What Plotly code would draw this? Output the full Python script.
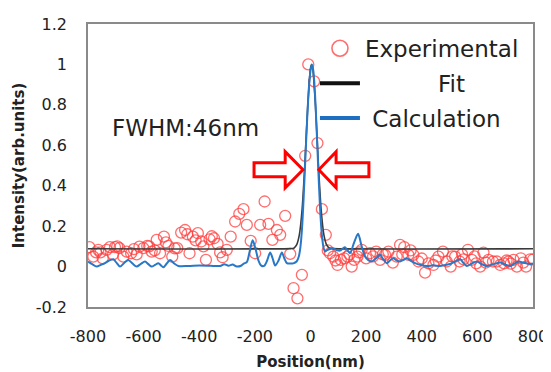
import plotly.graph_objects as go

# ---------------- data ----------------
exp_x = [-795, -781, -771, -763, -755, -747, -733, -721, -710, -703, -695, -687, -673, -661,
         -645, -635, -625, -615, -601, -587, -580, -571, -560, -553, -541, -527, -520, -511,
         -497, -488, -479, -465, -451, -443, -435, -423, -413, -405, -393, -385, -376, -363,
         -355, -347, -334, -325, -316, -301, -287, -271, -256, -241, -229, -215, -199, -181,
         -165, -151, -137, -121, -109, -91, -73, -61, -47, -31, -19, -8, 13, 25, 41, 55, 62,
         70, 82, 90, 97, 109, 121, 133, 140, 148, 157, 169, 175, 184, 200, 214, 225, 236, 250,
         260, 268, 280, 296, 310, 322, 330, 337, 352, 360, 370, 388, 400, 412, 424, 442, 450,
         460, 476, 490, 504, 510, 520, 536, 545, 550, 566, 580, 590, 596, 610, 622, 630, 640,
         656, 670, 682, 696, 705, 712, 720, 730, 742, 756, 765, 775, 790, 800]
exp_y = [0.096, 0.049, 0.07, 0.083, 0.07, 0.041, 0.083, 0.096, 0.06, 0.096, 0.1, 0.091, 0.049, 0.074,
         0.066, 0.086, 0.06, 0.099, 0.091, 0.102, 0.1, 0.074, 0.08, 0.132, 0.066, 0.148, 0.12, 0.102,
         0.049, 0.09, 0.091, 0.168, 0.181, 0.16, 0.066, 0.148, 0.13, 0.165, 0.124, 0.1, 0.033, 0.135,
         0.15, 0.14, 0.112, 0.07, 0.046, 0.083, 0.148, 0.223, 0.261, 0.284, 0.206, 0.127, 0.066, 0.206,
         0.322, 0.211, 0.132, 0.181, 0.157, 0.251, 0.063, -0.107, -0.157, -0.041, 0.548, 1.0, 0.916,
         0.611, 0.284, 0.157, 0.08,
         0.066, 0.049, 0.03, 0.008, 0.033, 0.041, 0.049, 0.06, 0.0, 0.033, 0.049, 0.07, 0.083, 0.041,
         0.066, 0.05, 0.074, 0.033, 0.06, 0.058, 0.074, 0.02, 0.049, 0.107, 0.06, 0.096, 0.058, 0.08,
         0.058, 0.025, 0.04, -0.03, 0.016, 0.008, 0.03, 0.049, 0.074, 0.025, 0.0, 0.05, 0.049, 0.025,
         0.06, 0.036, 0.083, 0.033, 0.05, 0.016, 0.0, 0.069, 0.02, 0.033, 0.025, 0.025, 0.008, 0.016,
         0.03, 0.025, 0.015, 0.033, 0.0, 0.041, 0.02, 0.0, 0.036, 0.035]

fit_x = [-800, -70, -60, -50, -40, -30, -20, -10, 0, 4, 8, 18, 28, 38, 48, 58, 68, 78, 800]
fit_y = [0.088, 0.089, 0.091, 0.107, 0.158, 0.286, 0.515, 0.792, 0.981, 1.0, 0.981, 0.792,
         0.515, 0.286, 0.158, 0.107, 0.091, 0.089, 0.088]

calc_x = [-800, -785, -769, -754, -739, -724, -709, -697, -685, -670, -655, -640, -625, -610,
          -595, -583, -571, -559, -547, -538, -529, -517, -505, -490, -475, -440, -400, -360,
          -325, -310, -295, -280, -265, -250, -240, -229, -218, -208, -198, -187, -177, -167,
          -156, -145, -136, -127, -115, -103, -94, -85, -73, -62, -50, -42, -36, -30, -24, -18,
          -12, -6, 0, 5, 10, 16, 22, 28, 34, 40, 46, 52, 58, 70, 82, 94, 106, 115, 124, 133,
          142, 157, 171, 184, 196, 208, 220, 235, 250, 262, 274, 286, 298, 310, 322, 334, 346,
          361, 376, 397, 418, 442, 466, 484, 502, 520, 538, 550, 562, 580, 598, 616, 634, 658,
          682, 700, 718, 733, 748, 769, 790, 800]
calc_y = [0.025, 0.012, 0.0, 0.008, 0.017, 0.03, 0.036, 0.018, 0.0, 0.018, 0.033, 0.015, 0.0, 0.013,
          0.025, 0.012, 0.0, 0.008, 0.017, 0.006, -0.003, 0.015, 0.033, 0.015, 0.003, 0.003, 0.005, 0.004,
          0.003, 0.012, 0.004, 0.01, 0.0, 0.004, 0.015, 0.022, 0.08, 0.13, 0.09, 0.03, 0.005, 0.003,
          0.03, 0.07, 0.04, 0.005, 0.03, 0.07, 0.04, 0.017, 0.015, 0.016, 0.025, 0.05, 0.1, 0.2, 0.36, 0.55,
          0.73, 0.88, 0.97, 1.0, 0.97, 0.86, 0.68, 0.48, 0.3, 0.17, 0.1, 0.075, 0.08, 0.087, 0.09, 0.082,
          0.079, 0.088, 0.096, 0.08, 0.066, 0.12, 0.162, 0.1, 0.05, 0.032, 0.025, 0.04, 0.058, 0.035,
          0.017, 0.03, 0.041, 0.03, 0.025, 0.033, 0.041, 0.028, 0.017, 0.008, 0.003, 0.006, 0.003, 0.008,
          0.013, 0.025, 0.036, 0.018, 0.003, 0.015, 0.025, 0.012, 0.003, 0.012, 0.02, 0.01, 0.003, 0.014,
          0.025, 0.018, 0.013, 0.015]

x_ticks = [-800, -600, -400, -200, 0, 200, 400, 600, 800]
x_tick_text = ["-800", "-600", "-400", "-200", "0", "200", "400", "600", "800"]
y_ticks = [-0.2, 0, 0.2, 0.4, 0.6, 0.8, 1, 1.2]
y_tick_text = ["-0.2", "0", "0.2", "0.4", "0.6", "0.8", "1", "1.2"]

# ---------------- figure ----------------
RED = "rgba(255,60,60,0.75)"
FONT = "DejaVu Sans"

fig = go.Figure()
fig.add_trace(go.Scatter(
    x=exp_x, y=exp_y, mode="markers", name="Experimental", showlegend=False,
    marker=dict(symbol="circle-open", size=11, color=RED, line=dict(width=1.3, color=RED)),
))
fig.add_trace(go.Scatter(
    x=fit_x, y=fit_y, mode="lines", name="Fit", showlegend=False,
    line=dict(color="#3a3a3a", width=1.6, shape="spline", smoothing=0.6),
))
fig.add_trace(go.Scatter(
    x=calc_x, y=calc_y, mode="lines", name="Calculation", showlegend=False,
    line=dict(color="#2878c8", width=2, shape="spline", smoothing=0.8),
))

# legend entries
fig.add_trace(go.Scatter(
    x=[None], y=[None], mode="markers", name="Experimental", legendgroup="a",
    marker=dict(symbol="circle-open", size=16, color=RED, line=dict(width=1.6, color=RED)),
))
fig.add_trace(go.Scatter(
    x=[None], y=[None], mode="lines", name="&nbsp;" * 10 + "Fit", legendgroup="b",
    line=dict(color="#111111", width=4),
))
fig.add_trace(go.Scatter(
    x=[None], y=[None], mode="lines", name="&nbsp;Calculation", legendgroup="c",
    line=dict(color="#1f6fc0", width=4),
))

arrow_left = "M -203,0.444 L -91,0.444 L -91,0.39 L -27,0.479 L -91,0.568 L -91,0.513 L -203,0.513 Z"
arrow_right = "M 210,0.444 L 92,0.444 L 92,0.39 L 30,0.479 L 92,0.568 L 92,0.513 L 210,0.513 Z"
for p in (arrow_left, arrow_right):
    fig.add_shape(type="path", path=p, xref="x", yref="y",
                  line=dict(color="#ff0000", width=3), fillcolor="white", layer="above")

fig.add_annotation(x=-722, y=0.685, xref="x", yref="y", text="FWHM:46nm", showarrow=False,
                   xanchor="left", yanchor="middle", font=dict(family=FONT, size=23, color="#222"))

# page body has an 8px margin, so the figure is sized/offset to match the 551x372 reference
fig.update_layout(
    width=543, height=364,
    margin=dict(l=80, r=18, t=16, b=65),
    paper_bgcolor="white", plot_bgcolor="white",
    font=dict(family=FONT, color="#222"),
    legend=dict(x=0.51, y=0.99, xanchor="left", yanchor="top",
                font=dict(family=FONT, size=23, color="#222"),
                bgcolor="rgba(0,0,0,0)", tracegroupgap=2, itemwidth=40),
    xaxis=dict(range=[-800, 800], tickvals=x_ticks, ticktext=x_tick_text, showgrid=False,
               zeroline=False, showline=True, linecolor="#8a8a8a", linewidth=1.5, mirror=True,
               automargin=False,
               ticks="outside", ticklen=14, tickcolor="rgba(0,0,0,0)",
               tickfont=dict(family=FONT, size=16, color="#222"),
               title=dict(text="<b>Position(nm)</b>", font=dict(family=FONT, size=15, color="#222"),
                          standoff=12)),
    yaxis=dict(range=[-0.2, 1.2], tickvals=y_ticks, ticktext=y_tick_text, showgrid=False,
               zeroline=False, showline=True, linecolor="#8a8a8a", linewidth=1.5, mirror=True,
               automargin=False,
               ticks="outside", ticklen=16, tickcolor="rgba(0,0,0,0)",
               tickfont=dict(family=FONT, size=16, color="#222"),
               title=dict(text="<b>Intensity(arb.units)</b>", font=dict(family=FONT, size=15, color="#222"),
                          standoff=8)),
)

fig.write_html("out.html")
